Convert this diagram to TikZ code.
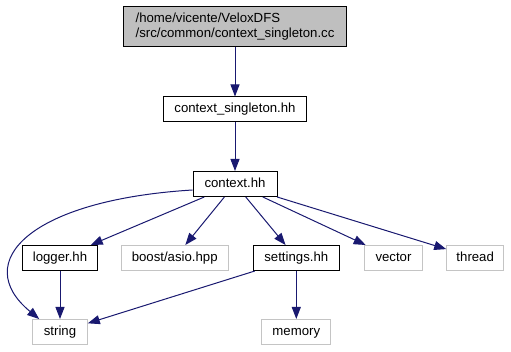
\documentclass[tikz,border=0pt]{standalone}
\usepackage{fontspec}
\setmainfont{Liberation Sans}
\usetikzlibrary{arrows.meta,positioning}
\definecolor{edgeblue}{HTML}{191970}
\definecolor{rootfill}{HTML}{BFBFBF}
\definecolor{sysgrey}{HTML}{C4C4C4}
\tikzset{
  every node/.style={font=\fontsize{13.2}{15.5}\selectfont},
  filebox/.style={draw=black,line width=1pt,inner sep=0pt,minimum height=25pt,
    text height=9.6pt,text depth=2.6pt},
  sysbox/.style={filebox,draw=sysgrey},
  rootbox/.style={draw=black,line width=1pt,fill=rootfill,inner sep=0pt,
    minimum height=40pt,align=left},
  dep/.style={draw=edgeblue,line width=1pt,-{Triangle[length=12pt,width=9pt]}}}
\begin{document}
\begin{tikzpicture}[x=1pt,y=-1pt]
\useasboundingbox (0,0) rectangle (511,352);
% include graph of context_singleton.cc
\node[rootbox,minimum width=223pt] (root) at (235,26.5)
  {/home/vicente/VeloxDFS\\/src/common/context\_singleton.cc};
\node[filebox,minimum width=142.5pt] (single) at (235,109.5) {context\_singleton.hh};
\node[filebox,minimum width=84pt] (ctx) at (235,184) {context.hh};
\node[filebox,minimum width=74.6pt] (logger) at (60,258) {logger.hh};
\node[sysbox,minimum width=107.3pt] (asio) at (174.7,258) {boost/asio.hpp};
\node[filebox,minimum width=86pt] (settings) at (296.3,258) {settings.hh};
\node[sysbox,minimum width=58.4pt] (vector) at (393.5,258) {vector};
\node[sysbox,minimum width=57pt] (thread) at (475.2,258) {thread};
\node[sysbox,minimum width=54.6pt] (string) at (60,332) {string};
\node[sysbox,minimum width=69.3pt] (memory) at (296.3,332) {memory};
% edges
\draw[dep] (root) -- (single);
\draw[dep] (single) -- (ctx);
\draw[dep] ([yshift=-6pt]ctx.west) .. controls (30,200) and (-30,262) .. ([xshift=7pt]string.north west);
\foreach \dst in {logger,asio,settings,vector,thread}
  \draw[dep] (ctx) -- (\dst);
\draw[dep] (logger) -- (string);
\draw[dep] (settings) -- (string);
\draw[dep] (settings) -- (memory);
\end{tikzpicture}
\end{document}
